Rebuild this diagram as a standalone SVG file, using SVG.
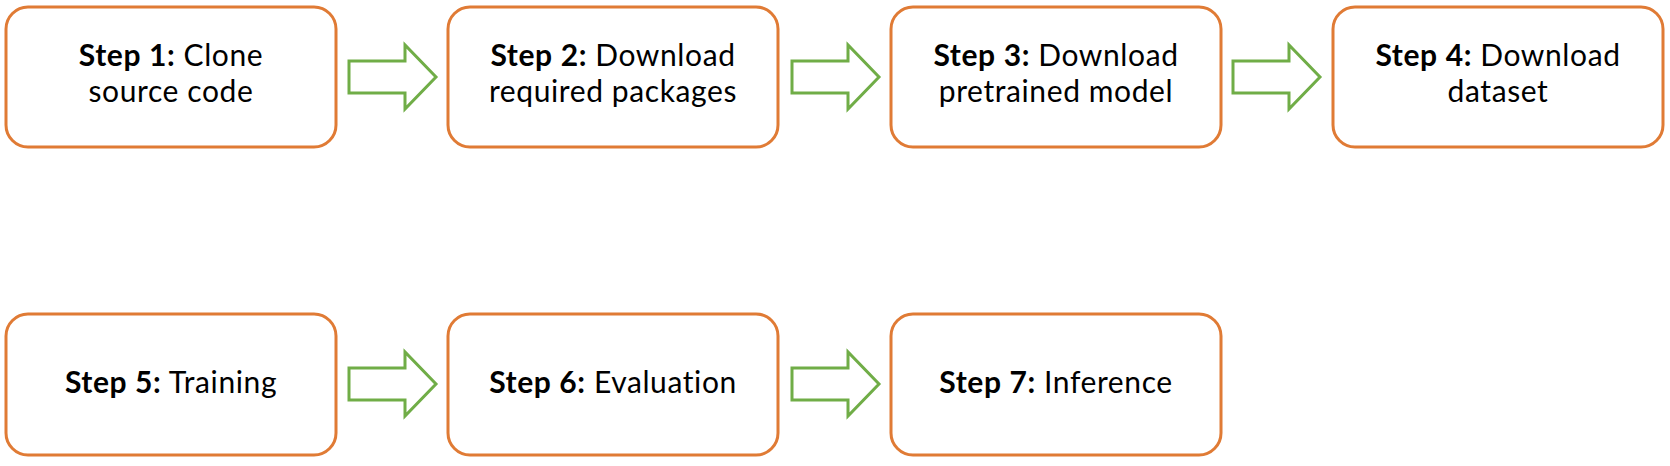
<svg xmlns="http://www.w3.org/2000/svg" width="1670" height="466" viewBox="0 0 1670 466">
<defs>
<style>
.box{fill:#fff;stroke:#E07B35;stroke-width:3}
.arr{fill:#fff;stroke:#70AD47;stroke-width:3;stroke-linejoin:miter}
text{font-family:Lato,"Open Sans","Liberation Sans",sans-serif;font-size:30px;letter-spacing:0.6px;fill:#000;text-anchor:middle}
.b{font-weight:bold}
</style>
<path id="arrow" d="M0,-16 H56 V-32 L87,0 L56,32 V16 H0 Z"/>
</defs>
<rect width="1670" height="466" fill="#fff"/>
<g id="connectors">
<use href="#arrow" class="arr" x="349" y="77"/>
<use href="#arrow" class="arr" x="792" y="77"/>
<use href="#arrow" class="arr" x="1233" y="77"/>
<use href="#arrow" class="arr" x="349" y="384"/>
<use href="#arrow" class="arr" x="792" y="384"/>
</g>
<g id="step1"><rect class="box" x="6" y="7" width="330" height="140" rx="22"/>
<text x="171" y="65.5"><tspan class="b">Step 1:</tspan> Clone</text>
<text x="171" y="101.5">source code</text></g>
<g id="step2"><rect class="box" x="448" y="7" width="330" height="140" rx="22"/>
<text x="613" y="65.5"><tspan class="b">Step 2:</tspan> Download</text>
<text x="613" y="101.5">required packages</text></g>
<g id="step3"><rect class="box" x="891" y="7" width="330" height="140" rx="22"/>
<text x="1056" y="65.5"><tspan class="b">Step 3:</tspan> Download</text>
<text x="1056" y="101.5">pretrained model</text></g>
<g id="step4"><rect class="box" x="1333" y="7" width="330" height="140" rx="22"/>
<text x="1498" y="65.5"><tspan class="b">Step 4:</tspan> Download</text>
<text x="1498" y="101.5">dataset</text></g>
<g id="step5"><rect class="box" x="6" y="314" width="330" height="141" rx="22"/>
<text x="171" y="393"><tspan class="b">Step 5:</tspan> Training</text></g>
<g id="step6"><rect class="box" x="448" y="314" width="330" height="141" rx="22"/>
<text x="613" y="393"><tspan class="b">Step 6:</tspan> Evaluation</text></g>
<g id="step7"><rect class="box" x="891" y="314" width="330" height="141" rx="22"/>
<text x="1056" y="393"><tspan class="b">Step 7:</tspan> Inference</text></g>
</svg>
